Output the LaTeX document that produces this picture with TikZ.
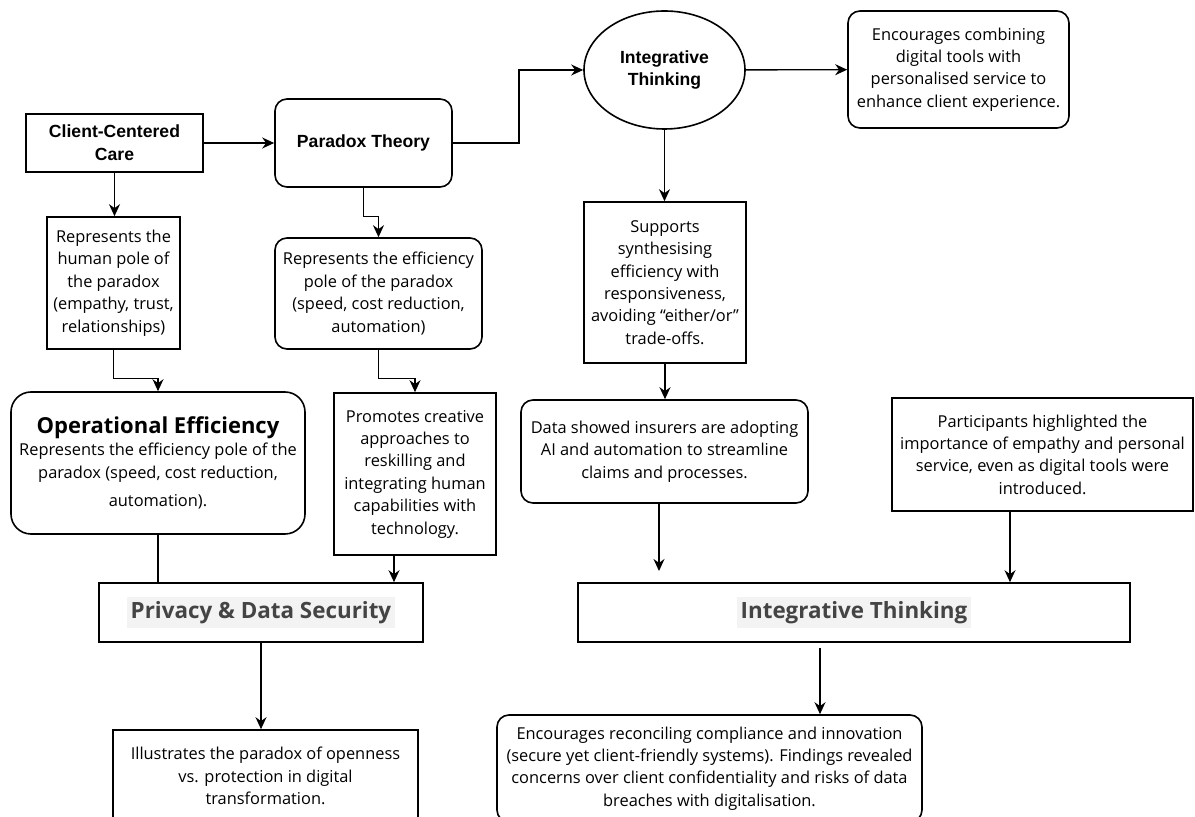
\documentclass[tikz,border=0pt]{standalone}
\usepackage{fontspec}
\setmainfont{Open Sans}
\newfontfamily\arialfont{Liberation Sans}
\usetikzlibrary{arrows.meta,shapes.geometric}
\definecolor{headgray}{HTML}{444444}
\definecolor{hlgray}{HTML}{F3F3F3}
\newcommand{\bodyfont}{\fontsize{8.2}{11.2}\selectfont}
\newcommand{\titlefont}{\arialfont\bfseries\fontsize{8.8}{11.3}\selectfont}
\newcommand{\hilite}[1]{{\setlength{\fboxsep}{2pt}\colorbox{hlgray}{\textcolor{headgray}{\bfseries\fontsize{11.2}{13}\selectfont #1}}}}
\tikzset{
  box/.style={draw, line width=0.8pt, align=center, font=\bodyfont, inner sep=2pt},
  rbox/.style={box, rounded corners=6pt},
  tbox/.style={box, font=\titlefont},
  arr/.style={-{Stealth[length=6pt,width=5.5pt]}, line width=0.7pt},
  plain/.style={line width=0.7pt}}

\begin{document}
\begin{tikzpicture}[x=0.5pt, y=-0.5pt]
  \useasboundingbox (0,0) rectangle (1195,817);
  \clip (0,0) rectangle (1195,817);
  % top row
  \node[tbox, minimum width=88.5pt, minimum height=29pt] (care) at (114.5,143) {Client-Centered\\Care};
  \node[tbox, rounded corners=6pt, minimum width=88.5pt, minimum height=44pt] (paradox) at (363.5,143) {Paradox Theory};
  \node[tbox, ellipse, minimum width=80.5pt, minimum height=59pt, inner sep=0pt] (integ) at (664.5,70) {Integrative\\Thinking};
  \node[rbox, minimum width=110.5pt, minimum height=58.5pt] (combine) at (958.5,69.5) {Encourages combining\\digital tools with\\personalised service to\\enhance client experience.};
  % second row
  \node[box, minimum width=66.5pt, minimum height=66pt] (human) at (113.5,283) {Represents the\\human pole of\\the paradox\\(empathy, trust,\\relationships)};
  \node[rbox, minimum width=103.5pt, minimum height=55.5pt] (effpole) at (378.5,293.5) {Represents the efficiency\\pole of the paradox\\(speed, cost reduction,\\automation)};
  \node[box, minimum width=81pt, minimum height=80.5pt] (supports) at (665,282.5) {Supports\\synthesising\\efficiency with\\responsiveness,\\avoiding “either/or”\\trade-offs.};
  % third row
  \node[rbox, rounded corners=10pt, minimum width=147pt, minimum height=71pt] (opeff) at (158,463) {{\bfseries\fontsize{11}{13.5}\selectfont Operational Efficiency}\\Represents the efficiency pole of the\\paradox (speed, cost reduction,\\[3pt]automation).};
  \node[box, minimum width=81pt, minimum height=81pt] (promotes) at (415,474) {Promotes creative\\approaches to\\reskilling and\\integrating human\\capabilities with\\technology.};
  \node[rbox, minimum width=143.5pt, minimum height=51.5pt] (adopt) at (664.5,451.5) {Data showed insurers are adopting\\AI and automation to streamline\\claims and processes.};
  \node[box, minimum width=150.5pt, minimum height=56.5pt] (particip) at (1042.5,454.5) {Participants highlighted the\\importance of empathy and personal\\service, even as digital tools were\\introduced.};
  % bottom
  \node[box, minimum width=162pt, minimum height=29.5pt] (privacy) at (261,612.5) {\hilite{Privacy \& Data Security}};
  \node[box, minimum width=276pt, minimum height=29.5pt] (integ2) at (854,612.5) {\hilite{Integrative Thinking}};
  \node[box, minimum width=152.5pt, minimum height=46pt] (openness) at (265.5,776) {Illustrates the paradox of openness\\vs. protection in digital\\transformation.};
  \node[rbox, minimum width=212.5pt, minimum height=53.5pt] (reconcile) at (709.5,768.5) {Encourages reconciling compliance and innovation\\(secure yet client-friendly systems). Findings revealed\\concerns over client confidentiality and risks of data\\breaches with digitalisation.};
  % connectors
  \draw[arr] (care) -- (paradox);
  \draw[arr] (paradox.east) -- ++(66,0) |- (integ.west);
  \draw[arr] (integ) -- (combine);
  \draw[arr] (care.south) -- (care.south |- human.north);
  \draw[arr] (paradox.south) -- ++(0,29) -| (effpole.north);
  \draw[arr] (integ.south) -- (integ.south |- supports.north);
  \draw[arr] (human.south) -- ++(0,29) -| (opeff.north);
  \draw[arr] (effpole.south) -- ++(0,29) -| (promotes.north);
  \draw[arr] (supports.south) -- (supports.south |- adopt.north);
  \coordinate (adoptend) at (659,571);
  \draw[arr] (adopt.south -| adoptend) -- (adoptend);
  \draw[arr] ([xshift=-16.25pt]particip.south) -- ([xshift=-16.25pt]particip.south |- integ2.north);
  \draw[plain] (opeff.south) -- (opeff.south |- privacy.north);
  \draw[arr] ([xshift=-10.5pt]promotes.south) -- ([xshift=-10.5pt]promotes.south |- privacy.north);
  \draw[arr] (privacy.south) -- (privacy.south |- openness.north);
  \draw[arr] ([xshift=-17pt,yshift=-2.5pt]integ2.south) -- ([xshift=-17pt]integ2.south |- reconcile.north);
\end{tikzpicture}
\end{document}
